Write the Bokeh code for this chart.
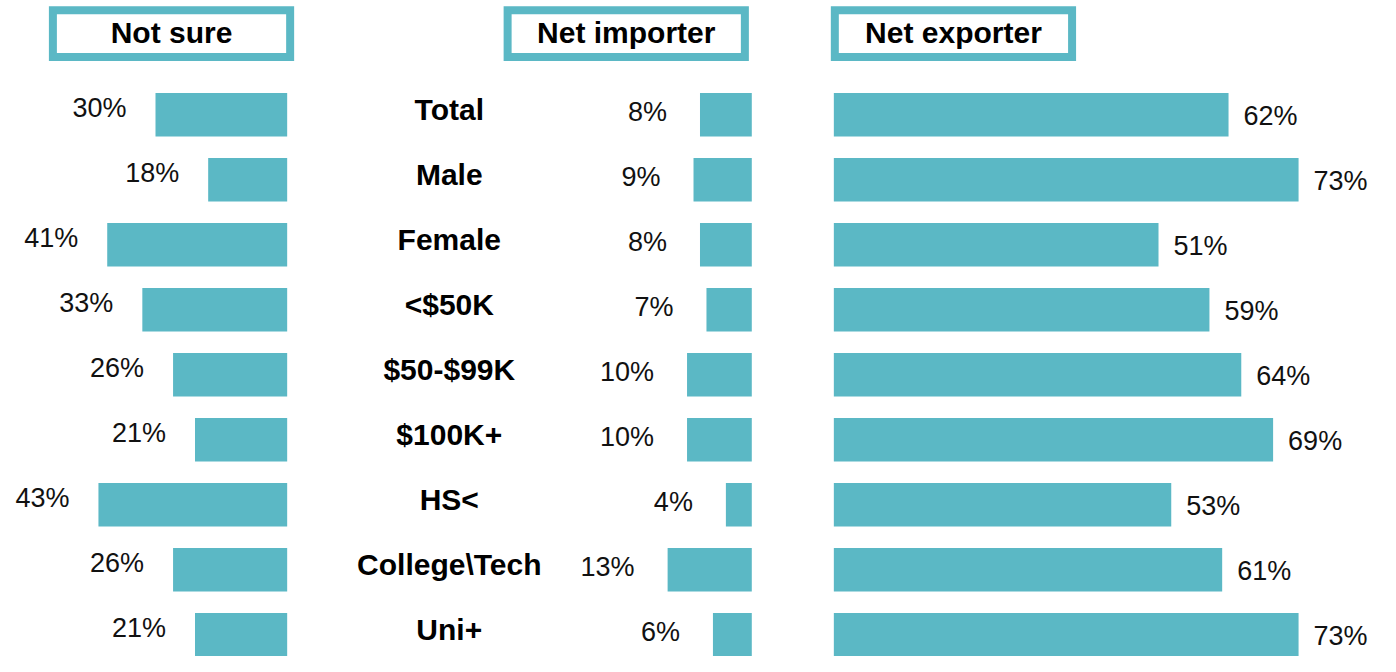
from bokeh.plotting import figure
from bokeh.models import Range1d, ColumnDataSource
from bokeh.embed import file_html
from bokeh.resources import INLINE
from bokeh.core.properties import value

# ---------------- data ----------------
categories = ["Total", "Male", "Female", "<$50K", "$50-$99K", "$100K+", "HS<", "College\\Tech", "Uni+"]
not_sure = [30, 18, 41, 33, 26, 21, 43, 26, 21]
net_importer = [8, 9, 8, 7, 10, 10, 4, 13, 6]
net_exporter = [62, 73, 51, 59, 64, 69, 53, 61, 73]
headers = ["Not sure", "Net importer", "Net exporter"]

# ---------------- style ----------------
TEAL = "#5bb8c5"
FONT = value("Liberation Sans")
W, H = 1380, 656          # figure size in screen pixels
RW, RH = 1396, 672        # layout coordinate space

# layout parameters (layout space)
ROW0, PITCH = 117.0, 66.6
NS_BASE, NS_PX = 290.0, 4.44
IM_BASE, IM_PX = 760.0, 6.55
EX_BASE, EX_PX = 843.0, 6.44

src = ColumnDataSource(dict(
    row=list(range(len(categories))),
    cat=categories,
    ns=not_sure,
    im=net_importer,
    ex=net_exporter,
    ns_lbl=[f"{v}%" for v in not_sure],
    im_lbl=[f"{v}%" for v in net_importer],
    ex_lbl=[f"{v}%" for v in net_exporter],
))

p = figure(width=W, height=H, output_backend="svg", toolbar_location=None,
           x_range=Range1d(0, RW), y_range=Range1d(RH, 0),
           x_axis_location=None, y_axis_location=None, min_border=0,
           background_fill_color="white", border_fill_color="white")
p.grid.visible = False
p.outline_line_color = None

p.extra_y_ranges = {"rows": Range1d((RH - ROW0) / PITCH, (0 - ROW0) / PITCH)}
p.extra_x_ranges = {
    "ns": Range1d(NS_BASE / NS_PX, (NS_BASE - RW) / NS_PX),
    "im": Range1d(IM_BASE / IM_PX, (IM_BASE - RW) / IM_PX),
    "ex": Range1d(-EX_BASE / EX_PX, (RW - EX_BASE) / EX_PX),
}

BAR_H = 0.67
for key, off, align, yoff in [("ns", -29, "right", -7), ("im", -33, "right", -3), ("ex", 15, "left", 1)]:
    p.hbar(y="row", height=BAR_H, left=0, right=key, source=src,
           x_range_name=key, y_range_name="rows",
           fill_color=TEAL, line_color=None)
    p.text(x=key, y="row", text=key + "_lbl", source=src,
           x_range_name=key, y_range_name="rows",
           x_offset=off, y_offset=yoff, text_align=align, text_baseline="middle",
           text_font=FONT, text_font_size="27px", text_color="#111111")

# category labels
p.text(x=454, y="row", text="cat", source=src, y_range_name="rows", y_offset=-5,
       text_align="center", text_baseline="middle", text_font=FONT,
       text_font_size="30px", text_font_style="bold", text_color="black")

# header boxes
box_left = [53, 513, 844]
box_right = [293, 753, 1084]
hdr = ColumnDataSource(dict(
    left=box_left, right=box_right,
    top=[10] * 3, bottom=[58] * 3,
    cx=[(a + b) / 2 for a, b in zip(box_left, box_right)],
    cy=[33] * 3, text=headers,
))
p.quad(left="left", right="right", top="top", bottom="bottom", source=hdr,
       fill_color="white", line_color=TEAL, line_width=8, line_join="miter")
p.text(x="cx", y="cy", text="text", source=hdr, text_align="center",
       text_baseline="middle", text_font=FONT, text_font_size="30px",
       text_font_style="bold", text_color="black")

open("out.html", "w").write(file_html(p, INLINE))
